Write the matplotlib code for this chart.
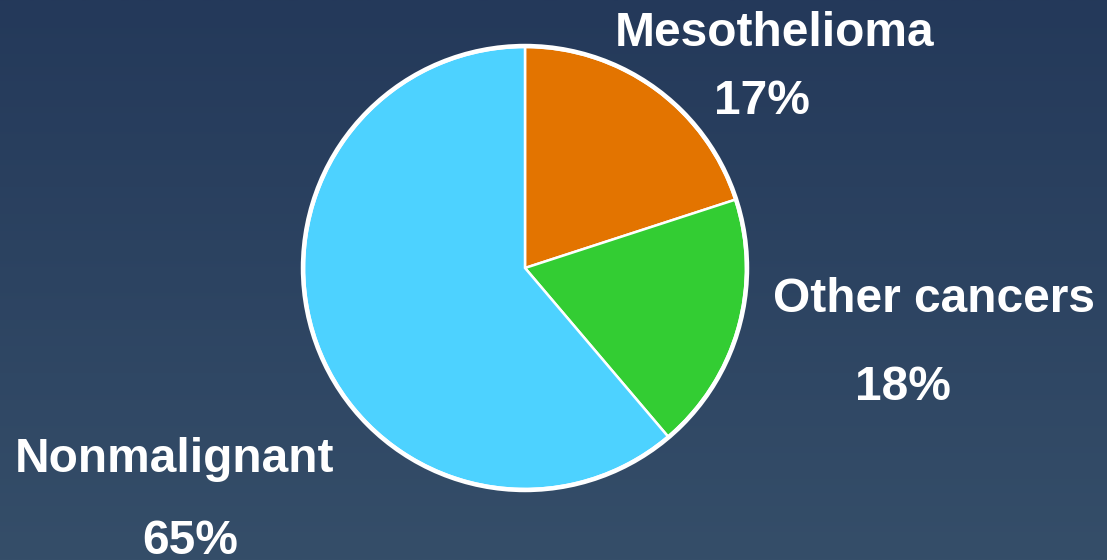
import numpy as np
import matplotlib
matplotlib.use("Agg")
import matplotlib.pyplot as plt
from matplotlib.colors import to_rgb

categories = ["Mesothelioma", "Other cancers", "Nonmalignant"]
values = [20.0, 18.8, 61.2]
pct_labels = ["17%", "18%", "65%"]
colors = ["#E37400", "#33CD33", "#4DD2FF"]

W, H = 1107, 560
fig = plt.figure(figsize=(W / 100, H / 100), dpi=100)

# background gradient
bg = fig.add_axes([0, 0, 1, 1])
top = np.array(to_rgb("#24395A"))
bot = np.array(to_rgb("#354E69"))
t = np.linspace(0, 1, 256)[:, None]
grad = top[None, :] * (1 - t) + bot[None, :] * t
bg.imshow(grad[:, None, :], aspect="auto", extent=[0, 1, 0, 1], origin="upper")
bg.axis("off")

ax = fig.add_axes([0, 0, 1, 1])
ax.patch.set_alpha(0)

cx, cy, r = 525, H - 268, 221
wedges, _ = ax.pie(values, colors=colors, startangle=90, counterclock=False,
                   center=(cx, cy), radius=r, frame=True,
                   wedgeprops=dict(edgecolor="white", linewidth=1.8))
ax.set_xlim(0, W)
ax.set_ylim(0, H)
ax.set_aspect("equal")
ax.axis("off")
circ = plt.Circle((cx, cy), r + 1, fill=False, edgecolor="white", linewidth=3.2)
ax.add_patch(circ)

fkw = dict(color="white", fontweight="bold", fontfamily="Liberation Sans",
           fontsize=34.5, ha="center", va="center")
name_pos = [(775, 33), (934, 300), (174, 460)]
pct_pos = [(762, 101), (903, 388), (190, 541)]
for name, p, (nx, ny), (px, py) in zip(categories, pct_labels, name_pos, pct_pos):
    ax.text(nx, H - ny, name, **fkw)
    ax.text(px, H - py, p, **fkw)

fig.savefig("out.png", dpi=100)
